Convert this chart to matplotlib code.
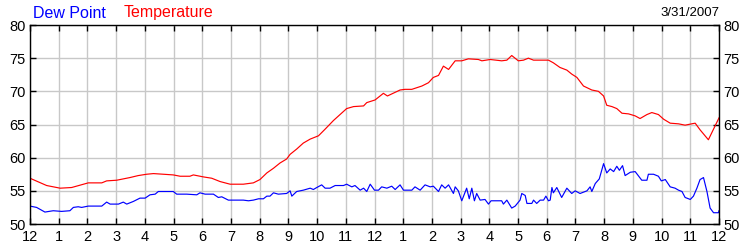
import matplotlib
matplotlib.use("Agg")
import matplotlib.pyplot as plt

plt.rcParams['font.family'] = ['Liberation Sans', 'DejaVu Sans']

temp_hours = [0, 0.58, 1.05, 1.45, 2.03, 2.50, 2.67, 3.02, 3.48, 3.77, 4.06, 4.30, 4.65, 4.99,
              5.23, 5.57, 5.69, 6.04, 6.33, 6.62, 6.97, 7.43, 7.78, 8.01, 8.25, 8.48, 8.71, 8.94,
              9.06, 9.29, 9.52, 9.76, 10.05, 10.28, 10.57, 10.80, 11.03, 11.27, 11.62, 11.73, 12.02,
              12.31, 12.45, 12.89, 13.06, 13.30, 13.65, 13.88, 14.05, 14.23, 14.40, 14.58, 14.81,
              15.04, 15.27, 15.62, 15.74, 16.03, 16.43, 16.61, 16.78, 17.01, 17.19, 17.36, 17.54,
              18.06, 18.23, 18.46, 18.70, 18.87, 19.05, 19.28, 19.57, 19.80, 19.98, 20.09, 20.27,
              20.44, 20.62, 20.85, 21.08, 21.25, 21.49, 21.66, 21.89, 22.07, 22.30, 22.59, 22.82,
              23.05, 23.17, 23.34, 23.63, 24.0]
temp_values = [56.9, 55.8, 55.4, 55.5, 56.2, 56.2, 56.5, 56.6, 57.0, 57.3, 57.5, 57.6, 57.5, 57.4,
               57.2, 57.2, 57.4, 57.1, 56.9, 56.4, 56.0, 56.0, 56.2, 56.7, 57.7, 58.4, 59.2, 59.8,
               60.5, 61.3, 62.2, 62.8, 63.3, 64.3, 65.6, 66.5, 67.4, 67.7, 67.8, 68.3, 68.7,
               69.7, 69.3, 70.2, 70.3, 70.3, 70.8, 71.3, 72.1, 72.4, 73.8, 73.3, 74.6,
               74.6, 74.9, 74.8, 74.6, 74.8, 74.6, 74.7, 75.4, 74.6, 74.7, 75.0, 74.7,
               74.7, 74.3, 73.6, 73.2, 72.6, 72.1, 70.8, 70.2, 70.0, 69.3, 67.9, 67.7,
               67.4, 66.7, 66.6, 66.3, 65.9, 66.5, 66.8, 66.5, 65.8, 65.2, 65.1, 64.9,
               65.1, 65.2, 64.2, 62.7, 66.0]

dew_hours = [0, 0.23, 0.52, 0.81, 1.10, 1.39, 1.51, 1.68, 1.80, 2.03, 2.50, 2.67, 2.79, 3.08, 3.25,
             3.37, 3.60, 3.83, 4.01, 4.18, 4.36, 4.47, 4.99, 5.11, 5.46, 5.81, 5.92, 6.10, 6.39,
             6.56, 6.68, 6.91, 7.43, 7.61, 7.78, 7.96, 8.13, 8.25, 8.36, 8.48, 8.65, 8.94, 9.06,
             9.12, 9.29, 9.52, 9.76, 9.87, 9.99, 10.16, 10.28, 10.45, 10.63, 10.92, 11.03, 11.21,
             11.32, 11.50, 11.62, 11.73, 11.85, 12.00, 12.14, 12.25, 12.43, 12.60, 12.72, 12.89,
             13.01, 13.30, 13.41, 13.59, 13.76, 13.94, 14.05, 14.23, 14.34, 14.46, 14.58, 14.75,
             14.81, 14.92, 15.04, 15.21, 15.30, 15.39, 15.48, 15.56, 15.68, 15.85, 15.97, 16.06,
             16.43, 16.49, 16.61, 16.78, 16.90, 17.07, 17.13, 17.25, 17.31, 17.48, 17.54, 17.65,
             17.77, 17.89, 17.97, 18.06, 18.12, 18.18, 18.23, 18.35, 18.52, 18.70, 18.87, 18.99,
             19.16, 19.40, 19.51, 19.57, 19.69, 19.83, 19.98, 20.09, 20.21, 20.33, 20.44, 20.53,
             20.64, 20.73, 20.91, 21.08, 21.31, 21.49, 21.54, 21.72, 21.89, 21.99, 22.13, 22.30,
             22.47, 22.59, 22.71, 22.82, 23.00, 23.11, 23.23, 23.34, 23.46, 23.58, 23.69, 23.81,
             23.98, 24.0]
dew_values = [52.7, 52.5, 51.8, 52.0, 51.9, 52.0, 52.5, 52.6, 52.5, 52.7, 52.7, 53.3, 53.0, 53.0, 53.3,
              53.0, 53.4, 53.9, 53.9, 54.4, 54.5, 54.9, 54.9, 54.5, 54.5, 54.4, 54.7, 54.5, 54.5,
              54.0, 54.1, 53.6, 53.6, 53.5, 53.6, 53.8, 53.8, 54.2, 54.2, 54.7, 54.5, 54.6, 55.0,
              54.2, 54.9, 55.1, 55.4, 55.2, 55.5, 55.9, 55.4, 55.4, 55.8, 55.8, 56.0, 55.6,
              55.8, 55.1, 55.4, 54.9, 56.0, 55.1, 55.1, 55.6, 55.4, 55.7, 55.2, 55.9,
              55.1, 55.1, 55.6, 55.1, 55.9, 55.6, 55.7, 54.9, 55.9, 55.4, 55.9, 54.6,
              55.6, 55.0, 53.5, 55.4, 53.8, 55.4, 53.5, 54.6, 53.6, 53.7, 53.0, 53.5,
              53.5, 53.0, 53.6, 52.4, 52.7, 53.6, 54.6, 54.3, 53.1, 53.1, 53.6, 53.1,
              53.6, 53.6, 54.2, 53.5, 53.6, 55.5, 54.7, 55.5, 54.0, 55.4, 54.6, 55.0,
              54.6, 55.0, 55.6, 54.9, 56.1, 56.8, 59.1, 57.7, 58.3, 57.9, 58.7, 58.1,
              58.8, 57.3, 57.8, 57.9, 56.6, 56.6, 57.5, 57.5, 57.2, 56.5, 56.7, 55.6,
              55.4, 55.1, 54.9, 54.0, 53.7, 54.2, 55.4, 56.7, 57.0, 54.9, 52.4, 51.7,
              51.7, 52.0]

hour_labels = ['12', '1', '2', '3', '4', '5', '6', '7', '8', '9', '10', '11',
               '12', '1', '2', '3', '4', '5', '6', '7', '8', '9', '10', '11', '12']
y_ticks = [50, 55, 60, 65, 70, 75, 80]
date_text = '3/31/2007'

fig = plt.figure(figsize=(7.5, 2.5), dpi=100)
ax = fig.add_axes([30/750, 26/250, 689/750, 199/250])

ax.plot(temp_hours, temp_values, color='#FF0000', lw=0.85)
ax.plot(dew_hours, dew_values, color='#0000FF', lw=0.85)

ax.set_xlim(0, 24)
ax.set_ylim(50, 80)
ax.set_xticks(range(25))
ax.set_xticklabels(hour_labels)
ax.set_yticks(y_ticks)
ax.grid(True, color='#C8C8C8', lw=1.0)
ax.set_axisbelow(True)
ax.tick_params(direction='in', length=4, width=1, color='black',
               top=True, right=True, labelright=True, labelsize=10.5, pad=3)
ax.tick_params(axis='x', pad=4)
for s in ax.spines.values():
    s.set_color('black')
    s.set_linewidth(1.0)

fig.text(33/750, 1 - 13/250, 'Dew Point', color='#0000FF', fontsize=11.5, va='center', ha='left')
fig.text(124/750, 1 - 13/250, 'Temperature', color='#FF0000', fontsize=11.5, va='center', ha='left')
fig.text(719/750, 1 - 13/250, date_text, color='black', fontsize=9.5, va='center', ha='right')

fig.savefig('out.png', dpi=100)
